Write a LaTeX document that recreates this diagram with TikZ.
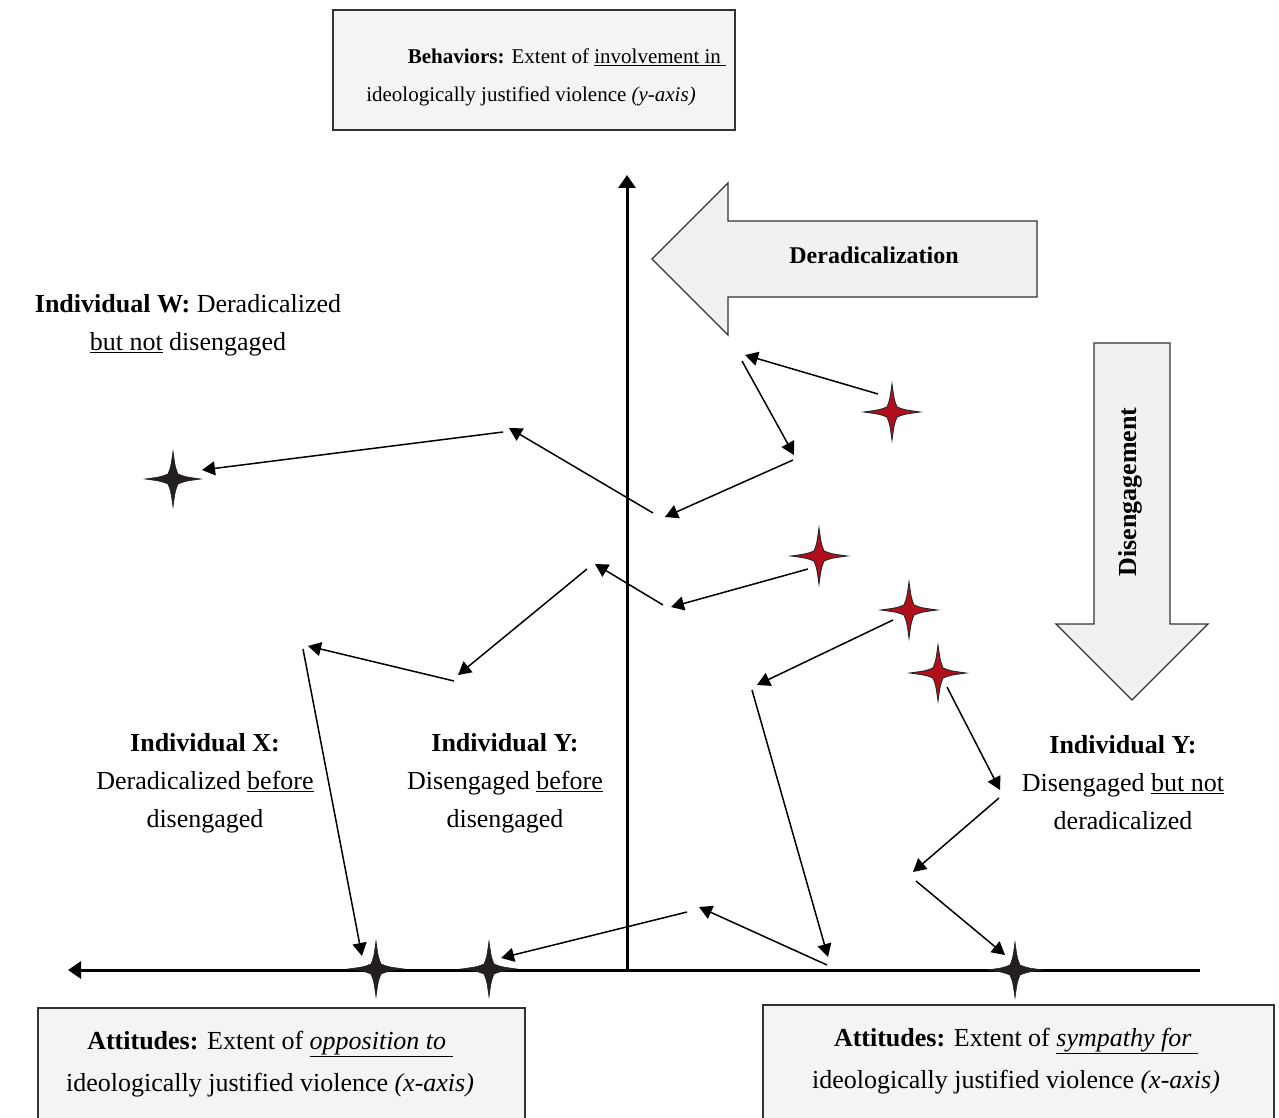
\documentclass[tikz,border=0pt]{standalone}
\usepackage{fontspec}
\setmainfont{Liberation Serif}
\usetikzlibrary{arrows.meta}
\definecolor{boxfill}{HTML}{F4F4F4}
\definecolor{boxline}{HTML}{333333}
\definecolor{arrowfill}{HTML}{F1F1F1}
\definecolor{starred}{HTML}{B0101C}
\definecolor{starblack}{HTML}{231F20}
\tikzset{
  axisline/.style={line width=3pt, -{Triangle[length=13pt,width=17pt]}},
  conn/.style={line width=1.5pt, -{Triangle[length=13pt,width=14pt]}},
  infobox/.style={draw=boxline, fill=boxfill, line width=2.5pt},
  blockarrow/.style={draw=black!80, fill=arrowfill, line width=1.3pt},
  lbl/.style={font=\fontsize{26}{38}\selectfont, align=center, inner sep=0pt},
  boxtext/.style={font=\fontsize{26}{42}\selectfont, align=center, inner sep=0pt},
  toptext/.style={font=\fontsize{21}{37}\selectfont, inner sep=0pt, anchor=base},
  redstar/.style={fill=starred, draw=black!85, line width=0.9pt},
  blackstar/.style={fill=starblack, draw=starblack, line width=0.6pt},
  pics/fourstar/.style={code={
    \path[pic actions] (0,-28) .. controls (2.2,-12) .. (5,-5)
      .. controls (12,-2.2) .. (28,0)
      .. controls (12,2.2) .. (5,5)
      .. controls (2.2,12) .. (0,28)
      .. controls (-2.2,12) .. (-5,5)
      .. controls (-12,2.2) .. (-28,0)
      .. controls (-12,-2.2) .. (-5,-5)
      .. controls (-2.2,-12) .. cycle;}}
}
\begin{document}
\begin{tikzpicture}[x=1pt,y=-1pt]
\useasboundingbox (0,0) rectangle (1279,1118);
\clip (0,0) rectangle (1279,1118);

% top box
\node[infobox, minimum width=402pt, minimum height=120pt] (behav) at (534,70) {};
\node[toptext] (behavtext1) at (567,64)
  {\textbf{Behaviors:} Extent of \underline{involvement in }};
\node[toptext] (behavtext2) at (531,102)
  {ideologically justified violence \textit{(y-axis)}};

% bottom boxes
\path[infobox] (38,1008) rectangle (525,1140);
\node[boxtext] (opptext) at (270,1064)
  {\textbf{Attitudes:} Extent of \underline{\textit{opposition to }}\\ideologically justified violence \textit{(x-axis)}};
\path[infobox] (763,1005) rectangle (1274,1140);
\node[boxtext] (symtext) at (1016,1061)
  {\textbf{Attitudes:} Extent of \underline{\textit{sympathy for }}\\ideologically justified violence \textit{(x-axis)}};

% axes
\coordinate (origin) at (627,970);
\coordinate (ytip) at (627,175);
\coordinate (xright) at (1200,970);
\coordinate (xtip) at (68,970);
\draw[axisline] (origin) -- (ytip);
\draw[axisline] (xright) -- (xtip);

% block arrows
\path[blockarrow] (1037,221) -- (728,221) -- (728,183) -- (652,259) -- (728,335) -- (728,297) -- (1037,297) -- cycle;
\node[font=\fontsize{24}{28}\selectfont\bfseries, inner sep=0pt] (derad) at (874,255) {Deradicalization};
\path[blockarrow] (1094,343) -- (1170,343) -- (1170,624) -- (1208,624) -- (1132,700) -- (1056,624) -- (1094,624) -- cycle;
\node[font=\fontsize{26}{30}\selectfont\bfseries, inner sep=0pt, rotate=90] (diseng) at (1130,492) {Disengagement};

% labels
\node[lbl] (lw) at (188,325) {\textbf{Individual W:} Deradicalized\\\underline{but not} disengaged};
\node[lbl] (lx) at (205,783) {\textbf{Individual X:}\\Deradicalized \underline{before}\\disengaged};
\node[lbl] (lyl) at (505,783) {\textbf{Individual Y:}\\Disengaged \underline{before}\\disengaged};
\node[lbl] (lyr) at (1123,783) {\textbf{Individual Y:}\\Disengaged \underline{but not}\\deradicalized};

% connector points
\coordinate (a1s) at (878,394); \coordinate (a1e) at (745,355);
\coordinate (a2s) at (742,361); \coordinate (a2e) at (794,455);
\coordinate (a3s) at (793,460); \coordinate (a3e) at (665,517);
\coordinate (a4s) at (653,513); \coordinate (a4e) at (509,428);
\coordinate (a5s) at (503,432); \coordinate (a5e) at (202,470);
\coordinate (b1s) at (808,569); \coordinate (b1e) at (671,607);
\coordinate (b2s) at (663,605); \coordinate (b2e) at (595,564);
\coordinate (b3s) at (587,569); \coordinate (b3e) at (458,675);
\coordinate (b4s) at (454,681); \coordinate (b4e) at (308,646);
\coordinate (b5s) at (303,649); \coordinate (b5e) at (362,956);
\coordinate (c1s) at (893,620); \coordinate (c1e) at (757,685);
\coordinate (c2s) at (752,690); \coordinate (c2e) at (828,957);
\coordinate (c3s) at (827,965); \coordinate (c3e) at (699,907);
\coordinate (c4s) at (687,912); \coordinate (c4e) at (501,958);
\coordinate (d1s) at (947,687); \coordinate (d1e) at (1000,790);
\coordinate (d2s) at (999,798); \coordinate (d2e) at (913,872);
\coordinate (d3s) at (916,881); \coordinate (d3e) at (1005,955);

\foreach \p in {a1,a2,a3,a4,a5,b1,b2,b3,b4,b5,c1,c2,c3,c4,d1,d2,d3}
  \draw[conn] (\p s) -- (\p e);

% stars
\coordinate (sr1) at (892,412);
\coordinate (sr2) at (819,556);
\coordinate (sr3) at (909,610);
\coordinate (sr4) at (938,673);
\coordinate (sw) at (173,479);
\coordinate (sx) at (376,969);
\coordinate (sy) at (489,969);
\coordinate (sz) at (1015,970);
\foreach \s in {sr1,sr2,sr3,sr4} \pic[redstar] at (\s) {fourstar};
\foreach \s in {sw,sx,sy,sz} \pic[blackstar] at (\s) {fourstar};
\end{tikzpicture}
\end{document}
